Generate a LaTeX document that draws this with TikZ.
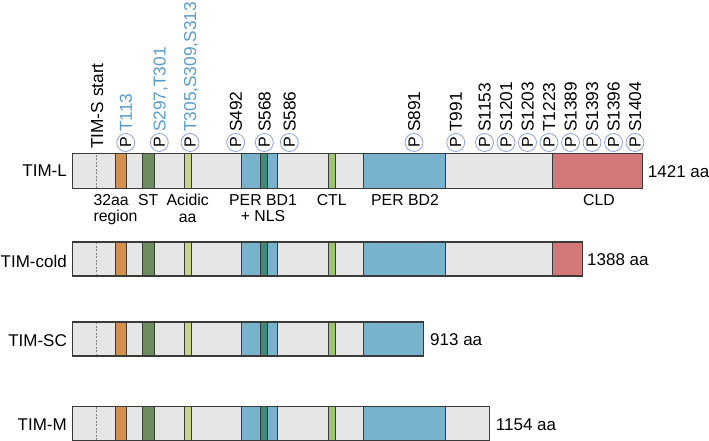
\documentclass[tikz,border=0pt]{standalone}
\usepackage{fontspec}
\setmainfont{Liberation Sans}
\definecolor{gbar}{HTML}{E6E6E6}
\definecolor{barline}{HTML}{3A3A3A}
\definecolor{corange}{HTML}{D2904F}
\definecolor{cdgreen}{HTML}{6E8C5F}
\definecolor{cyellow}{HTML}{C9D38A}
\definecolor{cblue}{HTML}{78B2CD}
\definecolor{cteal}{HTML}{3E8C78}
\definecolor{clgreen}{HTML}{9BC46E}
\definecolor{cred}{HTML}{D27878}
\definecolor{tblue}{HTML}{5B9BC8}
\definecolor{pcirc}{HTML}{8DA4D6}
\newcommand\protbar[4]{%
  \fill[gbar] (72.3,#1) rectangle (#3,#2);
  \draw[gray, line width=0.5pt, dash pattern=on 2pt off 1.5pt] (96.7,#1) -- (96.7,#2);
  \filldraw[seg, fill=corange] (115,#1) rectangle (126.7,#2);
  \filldraw[seg, fill=cdgreen] (142,#1) rectangle (154,#2);
  \filldraw[seg, fill=cyellow] (184.3,#1) rectangle (191,#2);
  \filldraw[seg, fill=cblue] (241.7,#1) rectangle (260.3,#2);
  \filldraw[seg, fill=cteal] (260.3,#1) rectangle (267.3,#2);
  \filldraw[seg, fill=cblue] (267.3,#1) rectangle (277.7,#2);
  \filldraw[seg, fill=clgreen] (328.3,#1) rectangle (335.7,#2);
  \filldraw[seg, fill=cblue] (363.3,#1) rectangle (#4,#2);
}
\begin{document}
\begin{tikzpicture}[x=1pt,y=1pt,
  lab/.style={font=\fontsize{17}{20}\selectfont, inner sep=0pt},
  sub/.style={font=\fontsize{15.8}{16.5}\selectfont, inner sep=0pt, anchor=north, align=center},
  site/.style={font=\fontsize{17.3}{20}\selectfont, inner sep=0pt, anchor=west, rotate=90, text height=12.4pt, text depth=0pt},
  pc/.style={circle, draw=pcirc, fill=white, line width=0.8pt, minimum size=18pt, inner sep=0pt, font=\fontsize{16}{16}\selectfont, rotate=90},
  seg/.style={draw=barline, line width=1pt},
  outl/.style={draw=barline, line width=1.2pt},
]
\useasboundingbox (0,0) rectangle (709,441);

% TIM-L
\protbar{252.5}{287.5}{642.7}{445}
\filldraw[seg, fill=cred] (552.3,252.5) rectangle (642.7,287.5);
\draw[outl] (72.3,252.5) rectangle (642.7,287.5);
% TIM-cold
\protbar{165}{199}{582.3}{445}
\filldraw[seg, fill=cred] (552.3,165) rectangle (582.3,199);
\draw[outl] (72.3,165) rectangle (582.3,199);
% TIM-SC
\protbar{85}{119}{423.3}{423.3}
\draw[outl] (72.3,85) rectangle (423.3,119);
% TIM-M
\protbar{0.6}{34.5}{489.7}{445}
\draw[outl] (72.3,0.6) rectangle (489.7,34.5);

% names
\node[lab, anchor=east] (nL) at (67,270) {TIM-L};
\node[lab, anchor=east] (nC) at (67,180) {TIM-cold};
\node[lab, anchor=east] (nS) at (67,100) {TIM-SC};
\node[lab, anchor=east] (nM) at (67,16.5) {TIM-M};
% lengths
\node[lab, anchor=west] (aL) at (647.7,269.5) {1421 aa};
\node[lab, anchor=west] (aC) at (587,181) {1388 aa};
\node[lab, anchor=west] (aS) at (430,101) {913 aa};
\node[lab, anchor=west] (aM) at (495.7,16.5) {1154 aa};

% domain labels
\node[sub, anchor=north west, align=left] (d1) at (93.3,247) {32aa\\region};
\node[sub] (d2) at (148.3,247) {ST};
\node[sub] (d3) at (187.7,247) {Acidic\\aa};
\node[sub] (d4) at (263,247) {PER BD1\\+ NLS};
\node[sub] (d5) at (331.7,247) {CTL};
\node[sub] (d6) at (405,247) {PER BD2};
\node[sub] (d7) at (599,247) {CLD};

% TIM-S start
\node[site] (ts) at (97,292) {TIM-S start};

% phosphosites
\foreach \x/\t/\c [count=\i] in {125.7/T113/tblue, 159.3/{S297,T301}/tblue, 190/{T305,S309,S313}/tblue,
  235.7/S492/black, 264.3/S568/black, 289.3/S586/black, 414/S891/black, 455.7/T991/black,
  484.5/S1153/black, 506/S1201/black, 527.5/S1203/black, 549/T1223/black, 570.5/S1389/black,
  592/S1393/black, 613.5/S1396/black, 635/S1404/black}{
  \node[pc] (p\i) at (\x,298.5) {P};
  \node[site, text=\c] (s\i) at (\x,309) {\t};
}
\end{tikzpicture}
\end{document}
